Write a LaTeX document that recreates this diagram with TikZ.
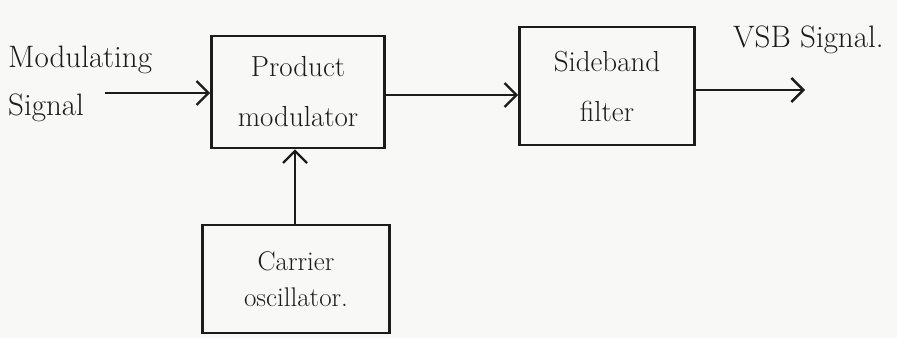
\documentclass[tikz,border=0pt]{standalone}
\usetikzlibrary{arrows.meta}
\definecolor{ink}{HTML}{1C1C1C}
\definecolor{paper}{HTML}{F8F8F6}
\tikzset{
  blockbox/.style={draw=ink, line width=2.6pt, align=center, inner sep=0pt,
    font=\fontsize{29}{50}\selectfont, text=ink},
  label/.style={align=left, inner sep=0pt, font=\fontsize{31}{48}\selectfont, text=ink},
  arr/.style={draw=ink, line width=2.6pt,
    -{Straight Barb[length=12pt, width=24pt, line width=2.4pt]}},
}
\begin{document}
\begin{tikzpicture}[x=1pt, y=-1pt]
  \fill[paper] (0,0) rectangle (897,338);
  \useasboundingbox (0,0) rectangle (897,338);

  % blocks
  \node[blockbox, minimum width=173pt, minimum height=112pt] (pm) at (298,92) {Product\\modulator};
  \node[blockbox, minimum width=175pt, minimum height=118pt] (sf) at (607,86) {Sideband\\filter};
  \node[blockbox, minimum width=187pt, minimum height=108pt, font=\fontsize{27}{36}\selectfont] (co) at (296,279) {Carrier\\oscillator.};

  % labels
  \node[label, anchor=north west] (ms) at (8,46) {Modulating\\Signal};
  \node[label, anchor=west] (vsb) at (733,40) {VSB Signal.};

  % free ends
  \coordinate (in) at (105,93);
  \coordinate (out) at (805,90);

  % connectors
  \draw[arr] (in) -- (in -| pm.west);
  \draw[arr] (pm.east |- 0,95) -- (sf.west |- 0,95);
  \draw[arr] (sf.east |- out) -- (out);
  \draw[arr] (co.north -| 295,0) -- (pm.south -| 295,0);
\end{tikzpicture}
\end{document}
